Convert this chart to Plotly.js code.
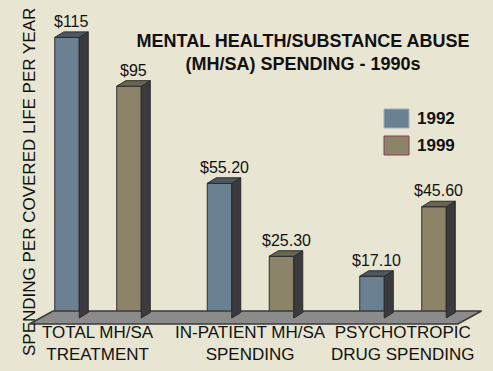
<!DOCTYPE html>
<html>
<head>
<meta charset="utf-8">
<script src="https://cdn.plot.ly/plotly-3.0.1.min.js"></script>
<style>html,body{margin:0;padding:0;background:#e8e6d2;}#chart{width:493px;height:371px;}</style>
</head>
<body>
<div id="chart"></div>
<script>
// ---- data ----
var categoryLine1 = ["TOTAL MH/SA", "IN-PATIENT MH/SA", "PSYCHOTROPIC"];
var categoryLine2 = ["TREATMENT", "SPENDING", "DRUG SPENDING"];
var seriesNames = ["1992", "1999"];
var values1992 = [115, 55.2, 17.1];
var values1999 = [95, 25.3, 45.6];
var labels1992 = ["$115", "$55.20", "$17.10"];
var labels1999 = ["$95", "$25.30", "$45.60"];

// ---- styling / geometry ----
var colors = {front: ["#6b8192", "#8b8468"], top: ["#4c5862", "#6a6551"], side: "#3b3b3f"};
var W = 493, H = 371;
var xPx0 = 98, xUnit = 152.5;          // pixel of category 0, pixels per category
var basePx = 318, yScale = 2.44;        // pixel of value 0, pixels per dollar
var xr = [-xPx0 / xUnit, (W - xPx0) / xUnit];
var yr = [-(H - basePx) / yScale, basePx / yScale];
var halfGap = 31 / xUnit, barW = 24.5 / xUnit;
var dX = 9 / xUnit, dY = 5.5 / yScale;

var idx = categoryLine1.map(function (_, i) { return i; });
var series = [values1992, values1999];
var seriesLabels = [labels1992, labels1999];
var offsets = [-halfGap - barW / 2, halfGap - barW / 2];

var traces = [];

// floor
var fl = -0.45, fr = idx.length - 1 + 0.36, fb = 0.155, fy0 = -2.46, fy1 = 2.87;
traces.push({
  x: [fl, fr, fr + fb, fl + fb, fl], y: [fy0, fy0, fy1, fy1, fy0],
  type: "scatter", mode: "lines", fill: "toself", fillcolor: "#8b8b8b",
  line: {color: "#3a3a3a", width: 1.5}, hoverinfo: "skip", showlegend: false
});

var annotations = [];
series.forEach(function (vals, s) {
  // front faces: bars
  traces.push({
    type: "bar", name: seriesNames[s], x: idx, y: vals, base: 0,
    width: barW, offset: offsets[s],
    marker: {color: colors.front[s], line: {color: "#2e2e2e", width: 1}},
    showlegend: false
  });
  var sx = [], sy = [], tx = [], ty = [];
  vals.forEach(function (v, i) {
    var l = i + offsets[s], r = l + barW;
    sx.push(r, r + dX, r + dX, r, r, null);
    sy.push(0, dY, v + dY, v, 0, null);
    tx.push(l, l + dX, r + dX, r, l, null);
    ty.push(v, v + dY, v + dY, v, v, null);
    annotations.push({
      x: (l + r) / 2 + dX / 2, y: v + dY, xref: "x", yref: "y",
      text: seriesLabels[s][i], showarrow: false, yanchor: "bottom", yshift: 0,
      font: {family: "Liberation Sans, Arial, sans-serif", size: 16, color: "#111"}
    });
  });
  traces.push({x: sx, y: sy, type: "scatter", mode: "lines", fill: "toself",
    fillcolor: colors.side, line: {color: "#2a2a2a", width: 1}, hoverinfo: "skip", showlegend: false});
  traces.push({x: tx, y: ty, type: "scatter", mode: "lines", fill: "toself",
    fillcolor: colors.top[s], line: {color: "#2a2a2a", width: 1}, hoverinfo: "skip", showlegend: false});
});

// category labels (two lines each)
var catFont = {family: "Liberation Sans, Arial, sans-serif", size: 17, color: "#111"};
idx.forEach(function (i) {
  annotations.push({x: i, y: 1 - 343 / H, xref: "x", yref: "paper",
    text: categoryLine1[i] + "<br>" + categoryLine2[i],
    showarrow: false, yanchor: "middle", font: catFont});
});

// y axis title
annotations.push({x: 17.5 / W, y: 1 - 182 / H, xref: "paper", yref: "paper",
  text: "SPENDING PER COVERED LIFE PER YEAR", textangle: -90, showarrow: false,
  font: catFont});

// legend
var shapes = [];
var legTop = [109, 136];
seriesNames.forEach(function (n, s) {
  shapes.push({type: "rect", xref: "paper", yref: "paper",
    x0: 384 / W, x1: 409 / W, y0: 1 - (legTop[s] + 19) / H, y1: 1 - legTop[s] / H,
    fillcolor: colors.front[s], line: {color: s === 0 ? "#9fb0c0" : "#8a3a5a", width: 1}});
  annotations.push({x: 415 / W, y: 1 - (legTop[s] + 9.5) / H, xref: "paper", yref: "paper",
    text: n, showarrow: false, xanchor: "left", yanchor: "middle",
    font: {family: "Liberation Sans, Arial, sans-serif", size: 17, weight: 700, color: "#111"}});
});

var layout = {
  width: W, height: H,
  margin: {l: 0, r: 0, t: 0, b: 0},
  paper_bgcolor: "#e8e6d2", plot_bgcolor: "#e8e6d2",
  barmode: "overlay",
  title: {text: "MENTAL HEALTH/SUBSTANCE ABUSE<br>(MH/SA) SPENDING - 1990s",
    x: 303 / W, xanchor: "center", y: 1 - 47 / H, yanchor: "middle",
    font: {family: "Liberation Sans, Arial, sans-serif", size: 18, weight: 700, color: "#111"}},
  xaxis: {range: xr, visible: false, fixedrange: true},
  yaxis: {range: yr, visible: false, fixedrange: true},
  showlegend: false,
  annotations: annotations,
  shapes: shapes
};

Plotly.newPlot("chart", traces, layout, {displayModeBar: false, staticPlot: true});
</script>
</body>
</html>
